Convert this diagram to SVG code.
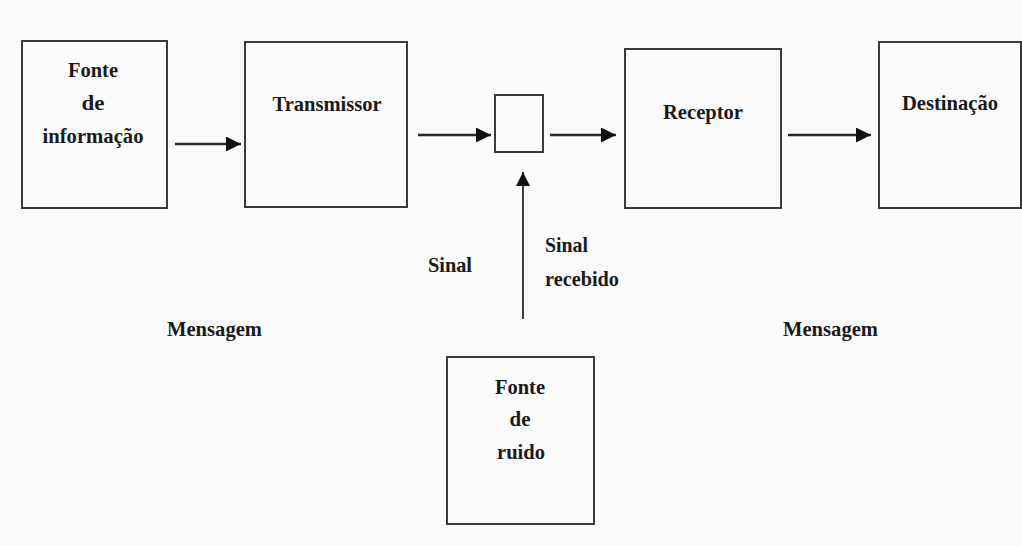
<svg xmlns="http://www.w3.org/2000/svg" width="1022" height="546" viewBox="0 0 1022 546">
  <style>
    .box { fill: none; stroke: #3a3a3a; stroke-width: 2; }
    .lbl { font-family: "Liberation Serif", "Times New Roman", serif; font-weight: bold; font-size: 22px; fill: #1a1a1a; }
    .mid { text-anchor: middle; }
    .edge { stroke: #2a2a2a; stroke-width: 2.5; fill: none; marker-end: url(#head); }
    .thin { stroke-width: 1.8; }
  </style>
  <defs>
    <marker id="head" viewBox="0 0 10 10" refX="10" refY="5" markerWidth="6" markerHeight="6" markerUnits="strokeWidth" orient="auto">
      <path d="M0,0 L10,5 L0,10 z" fill="#111"/>
    </marker>
    <marker id="headUp" viewBox="0 0 10 10" refX="10" refY="5" markerWidth="8" markerHeight="8" markerUnits="strokeWidth" orient="auto">
      <path d="M0,0 L10,5 L0,10 z" fill="#111"/>
    </marker>
  </defs>

  <rect x="0" y="0" width="1022" height="546" fill="#fafafa"/>

  <g id="fonte-informacao">
    <rect class="box" x="22" y="41" width="145" height="167"/>
    <text class="lbl mid" x="93" y="77" textLength="50" lengthAdjust="spacingAndGlyphs">Fonte</text>
    <text class="lbl mid" x="93" y="110" textLength="23" lengthAdjust="spacingAndGlyphs">de</text>
    <text class="lbl mid" x="93" y="143" textLength="101" lengthAdjust="spacingAndGlyphs">informação</text>
  </g>

  <g id="transmissor">
    <rect class="box" x="245" y="42" width="162" height="165"/>
    <text class="lbl mid" x="327" y="111" textLength="109" lengthAdjust="spacingAndGlyphs">Transmissor</text>
  </g>

  <g id="juncao">
    <rect class="box" x="495" y="95" width="48" height="57"/>
  </g>

  <g id="receptor">
    <rect class="box" x="625" y="49" width="156" height="159"/>
    <text class="lbl mid" x="703" y="119" textLength="80" lengthAdjust="spacingAndGlyphs">Receptor</text>
  </g>

  <g id="destinacao">
    <rect class="box" x="879" y="42" width="142" height="166"/>
    <text class="lbl mid" x="950" y="110" textLength="96" lengthAdjust="spacingAndGlyphs">Destinação</text>
  </g>

  <g id="fonte-ruido">
    <rect class="box" x="447" y="357" width="147" height="167"/>
    <text class="lbl mid" x="520" y="394" textLength="50" lengthAdjust="spacingAndGlyphs">Fonte</text>
    <text class="lbl mid" x="520" y="426" textLength="21" lengthAdjust="spacingAndGlyphs">de</text>
    <text class="lbl mid" x="521" y="459" textLength="48" lengthAdjust="spacingAndGlyphs">ruido</text>
  </g>

  <g id="connectors">
    <line class="edge" x1="175" y1="144" x2="241" y2="144"/>
    <line class="edge" x1="418" y1="135" x2="491" y2="135"/>
    <line class="edge" x1="550" y1="135" x2="616" y2="135"/>
    <line class="edge" x1="788" y1="135" x2="871" y2="135"/>
    <line class="edge thin" x1="523" y1="319" x2="523" y2="172" style="marker-end:url(#headUp)"/>
  </g>

  <g id="labels">
    <text class="lbl" x="428" y="272" textLength="44" lengthAdjust="spacingAndGlyphs">Sinal</text>
    <text class="lbl" x="545" y="252" textLength="43" lengthAdjust="spacingAndGlyphs">Sinal</text>
    <text class="lbl" x="545" y="286" textLength="74" lengthAdjust="spacingAndGlyphs">recebido</text>
    <text class="lbl" x="167" y="336" textLength="95" lengthAdjust="spacingAndGlyphs">Mensagem</text>
    <text class="lbl" x="783" y="336" textLength="95" lengthAdjust="spacingAndGlyphs">Mensagem</text>
  </g>
</svg>
